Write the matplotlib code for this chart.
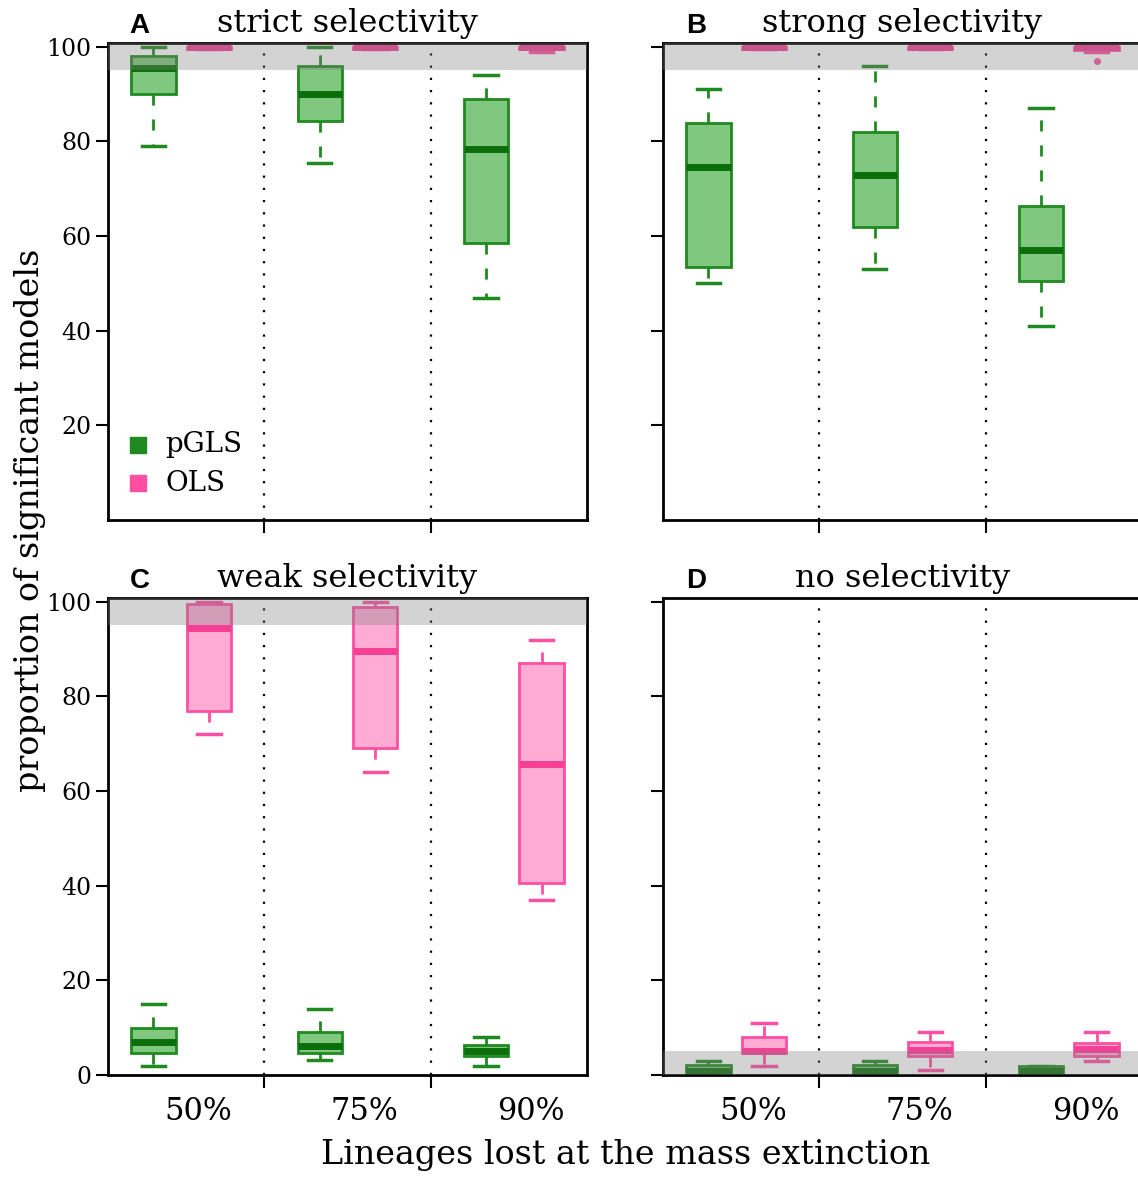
import numpy as np
import matplotlib
matplotlib.use('Agg')
import matplotlib.pyplot as plt
import matplotlib.transforms as mtransforms

# === DATOS ===
grupos = ['50%', '75%', '90%']
paneles = ['A', 'B', 'C', 'D']
titulos = ['strict selectivity', 'strong selectivity', 'weak selectivity', 'no selectivity']

# por panel: [bigote_inf, q1, mediana, q3, bigote_sup] para 50%, 75%, 90%
pgls = {
    'A': [[79, 90, 95.5, 98, 100], [75.5, 84.3, 90, 96, 100], [47, 58.6, 78.5, 89, 94]],
    'B': [[50, 53.5, 74.6, 84, 91], [53, 62, 73, 82, 96], [41, 50.6, 57, 66.4, 87]],
    'C': [[2, 4.6, 7, 10, 15], [3.2, 4.6, 6.2, 9, 14], [2, 4, 5, 6.3, 8]],
    'D': [[0, 0, 0.8, 2.2, 3], [0, 0, 0.8, 2.2, 3], [0, 0, 0.8, 1.8, 2]],
}
ols = {
    'A': [[99.5, 99.6, 100, 100, 100], [99.5, 99.6, 100, 100, 100], [99, 99.5, 100, 100, 100]],
    'B': [[99.5, 99.6, 100, 100, 100], [99.5, 99.6, 100, 100, 100], [99, 99.4, 100, 100, 100]],
    'C': [[72, 77, 94.5, 99.5, 100], [64, 69, 89.5, 99, 100], [37, 40.5, 65.8, 87, 92]],
    'D': [[2, 4.6, 5, 8, 11], [1, 4, 5.2, 7, 9], [3, 4, 5.5, 6.7, 9]],
}
ols_atipicos = {'A': [[], [], []], 'B': [[], [], [97]], 'C': [[], [], []], 'D': [[], [], []]}
banda = {'A': (95, 102), 'B': (95, 102), 'C': (95, 102), 'D': (0, 5)}

# === ESTILO ===
VERDE = '#1f8a1f'
VERDE_MED = '#0b6e0b'
VERDE_FILL = '#80c77f'
ROSA = '#ff4fa3'
ROSA_MED = '#f53f95'
ROSA_FILL = '#ffabd4'
SERIF = 'DejaVu Serif'

pos_pgls = [1, 4, 7]
pos_ols = [2, 5, 8]

fig = plt.figure(figsize=(11.38, 11.8), dpi=100)
W, H = 1138, 1180
cajas = {'A': (108, 43), 'B': (663, 43), 'C': (108, 598), 'D': (663, 598)}
ancho, alto = 479, 477


def stats(lista, atip=None):
    out = []
    for i, (wl, q1, med, q3, wh) in enumerate(lista):
        out.append(dict(whislo=wl, q1=q1, med=med, q3=q3, whishi=wh,
                        fliers=(atip[i] if atip else [])))
    return out


def dibujar(ax, st, pos, edge, med, fill):
    ax.bxp(st, positions=pos, widths=0.8, patch_artist=True, showfliers=True,
           capwidths=0.42,
           boxprops=dict(facecolor=fill, edgecolor=edge, linewidth=2),
           medianprops=dict(color=med, linewidth=5, solid_capstyle='butt'),
           whiskerprops=dict(color=edge, linewidth=2, linestyle=(0, (4, 5))),
           capprops=dict(color=edge, linewidth=2.5),
           flierprops=dict(marker='o', markersize=4, markerfacecolor=edge,
                           markeredgecolor=edge))


for k, p in enumerate(paneles):
    x0, y0 = cajas[p]
    ax = fig.add_axes([x0 / W, 1 - (y0 + alto) / H, ancho / W, alto / H])
    ax.set_xlim(0.18, 8.82)
    ax.set_ylim(0, 100.8)

    dibujar(ax, stats(pgls[p]), pos_pgls, VERDE, VERDE_MED, VERDE_FILL)
    dibujar(ax, stats(ols[p], ols_atipicos[p]), pos_ols, ROSA, ROSA_MED, ROSA_FILL)

    ax.axhspan(banda[p][0], banda[p][1], color='#808080', alpha=0.34, lw=0, zorder=5)
    for xv in [3, 6]:
        ax.axvline(xv, color='black', linestyle=(0, (1, 4.5)), linewidth=1.6, zorder=1)

    ax.set_xticks([3, 6])
    ax.set_xticklabels([])
    ax.tick_params(axis='both', direction='out', length=9, width=1.5)
    for s in ax.spines.values():
        s.set_linewidth(2)

    if p in ['A', 'B']:
        ax.set_yticks([20, 40, 60, 80, 100])
    else:
        ax.set_yticks([0, 20, 40, 60, 80, 100])
    if p in ['A', 'C']:
        ax.set_yticklabels([str(int(v)) for v in ax.get_yticks()],
                           fontfamily=SERIF, fontsize=17)
    else:
        ax.set_yticklabels([])
    ax.tick_params(axis='y', pad=3)

    if p in ['C', 'D']:
        tr = mtransforms.blended_transform_factory(ax.transData, ax.transAxes)
        for g, xp in zip(grupos, [1.8, 4.8, 7.8]):
            ax.text(xp, -0.045, g, transform=tr, ha='center', va='top',
                    fontfamily=SERIF, fontsize=22)

    ax.text(0.5, 1.008, titulos[k], transform=ax.transAxes, ha='center', va='bottom',
            fontfamily=SERIF, fontsize=23)
    ax.text(0.066 if p in ['A', 'C'] else 0.07, 1.008, p, transform=ax.transAxes,
            ha='center', va='bottom', fontfamily='Liberation Sans',
            fontweight='bold', fontsize=20)

    if p == 'A':
        for lab, col, yy in [('pGLS', VERDE, 0.158), ('OLS', ROSA, 0.077)]:
            ax.scatter([0.062], [yy], transform=ax.transAxes, marker='s', s=120,
                       color=col, zorder=6, clip_on=False)
            ax.text(0.12, yy, lab, transform=ax.transAxes, ha='left', va='center',
                    fontfamily=SERIF, fontsize=20)

fig.text(30 / W, 1 - 520 / H, 'proportion of significant models', rotation=90,
         ha='center', va='center', fontfamily=SERIF, fontsize=24)
fig.text(626 / W, 1 - 1155 / H, 'Lineages lost at the mass extinction',
         ha='center', va='center', fontfamily=SERIF, fontsize=24)

fig.savefig('out.png', dpi=100)
